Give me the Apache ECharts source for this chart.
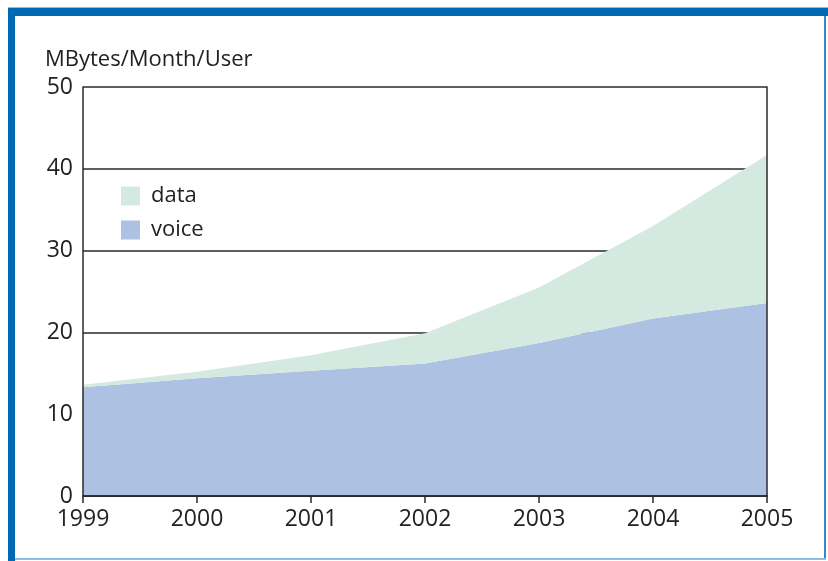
<!DOCTYPE html>
<html>
<head>
<meta charset="utf-8">
<script src="https://cdn.jsdelivr.net/npm/echarts@6/dist/echarts.min.js"></script>
<style>
  html, body { margin: 0; padding: 0; background: #fff; }
  #chart { width: 828px; height: 561px; }
</style>
</head>
<body>
<div id="chart"></div>
<script>
// years on the x axis
const years = ['1999', '2000', '2001', '2002', '2003', '2004', '2005'];
// MBytes/Month/User, voice at the bottom, data stacked on top
const voice = [13.3, 14.4, 15.3, 16.2, 18.7, 21.7, 23.6];
const data = [0.3, 0.8, 1.9, 3.7, 6.8, 11.3, 18.1];

const font = '"Open Sans", "Noto Sans", sans-serif';
const textColor = '#222';
const lineColor = '#2a2a2a';

let chart = echarts.init(document.getElementById('chart'), null, { renderer: 'canvas' });

// only the outline of the plot box, drawn above the areas
const boxAxis = {
    show: true,
    z: 10,
    axisLine: { show: true, lineStyle: { color: lineColor, width: 1.5 } },
    axisTick: { show: false },
    axisLabel: { show: false },
    splitLine: { show: false }
};

const option = {
    animation: false,
    backgroundColor: '#fff',
    textStyle: { fontFamily: font },
    title: {
        text: 'MBytes/Month/User',
        left: 45,
        top: 49,
        padding: 0,
        textStyle: { fontFamily: font, fontSize: 22, fontWeight: 'normal', color: textColor }
    },
    legend: {
        orient: 'vertical',
        left: 121,
        top: 185,
        padding: 0,
        itemWidth: 19,
        itemHeight: 19,
        itemGap: 12,
        icon: 'rect',
        data: ['data', 'voice'],
        textStyle: { fontFamily: font, fontSize: 22, lineHeight: 19, color: textColor, padding: [0, 0, 0, 6] }
    },
    grid: { left: 83, right: 61, top: 87, bottom: 65 },
    xAxis: [
        {
            type: 'category',
            data: years,
            boundaryGap: false,
            z: 10,
            axisLine: { show: true, lineStyle: { color: lineColor, width: 1.5 } },
            axisTick: { show: true, length: 7, lineStyle: { color: lineColor, width: 1.5 } },
            axisLabel: { fontFamily: font, fontSize: 23, color: textColor, margin: 12 },
            splitLine: { show: false }
        },
        Object.assign({ type: 'category', data: years, boundaryGap: false, position: 'top', gridIndex: 0 }, boxAxis)
    ],
    yAxis: [
        {
            type: 'value',
            min: 0,
            max: 50,
            interval: 10,
            axisLine: { show: false },
            axisTick: { show: false },
            axisLabel: { fontFamily: font, fontSize: 23, color: textColor, margin: 10 },
            splitLine: { show: true, lineStyle: { color: lineColor, width: 1.5 } }
        },
        Object.assign({ type: 'value', min: 0, max: 50, position: 'left' }, boxAxis),
        Object.assign({ type: 'value', min: 0, max: 50, position: 'right' }, boxAxis)
    ],
    series: [
        {
            name: 'voice',
            type: 'line',
            stack: 'total',
            data: voice,
            symbol: 'none',
            lineStyle: { width: 0 },
            itemStyle: { color: '#adc1e2' },
            areaStyle: { color: '#adc1e2', opacity: 1 }
        },
        {
            name: 'data',
            type: 'line',
            stack: 'total',
            data: data,
            symbol: 'none',
            lineStyle: { width: 0 },
            itemStyle: { color: '#d4e9e0' },
            areaStyle: { color: '#d4e9e0', opacity: 1 }
        }
    ],
    // blue page frame
    graphic: [
        { type: 'rect', shape: { x: 8, y: 7, width: 820, height: 1 }, style: { fill: '#8dbfe6' } },
        { type: 'rect', shape: { x: 8, y: 8, width: 820, height: 8 }, style: { fill: '#0069b4' } },
        { type: 'rect', shape: { x: 8, y: 8, width: 7, height: 553 }, style: { fill: '#0069b4' } },
        { type: 'rect', shape: { x: 824, y: 16, width: 2, height: 543 }, style: { fill: '#3a86c6' } },
        { type: 'rect', shape: { x: 15, y: 558, width: 811, height: 2 }, style: { fill: '#8dbfe6' } }
    ]
};

chart.setOption(option);
</script>
</body>
</html>
